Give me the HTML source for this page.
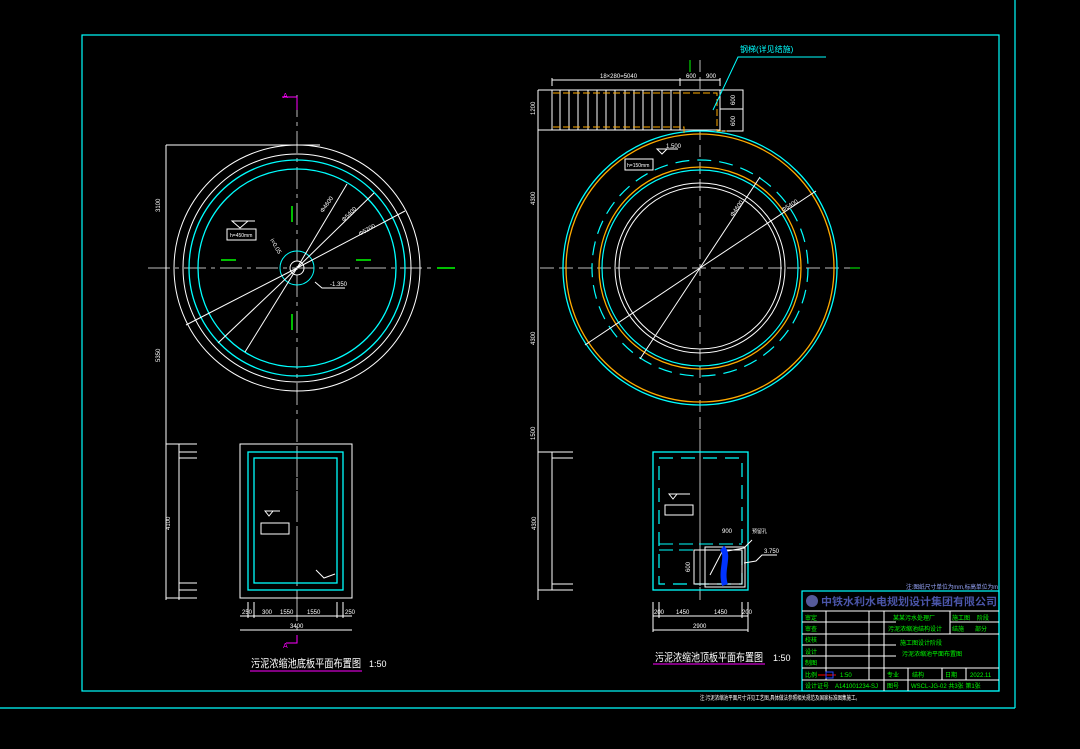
<!DOCTYPE html>
<html><head><meta charset="utf-8"><style>
html,body{margin:0;padding:0;background:#000;}
svg{display:block;}
text{font-family:"Liberation Sans","Noto Sans CJK SC",sans-serif;}
</style></head><body>
<svg width="1080" height="749" viewBox="0 0 1080 749" xmlns="http://www.w3.org/2000/svg">
<rect width="1080" height="749" fill="#000"/>
<rect x="82" y="35" width="917" height="656" fill="none" stroke="#00ffff" stroke-width="1.2"/>
<line x1="1015" y1="0" x2="1015" y2="708" stroke="#00ffff" stroke-width="1.2"/>
<line x1="0" y1="708" x2="1015" y2="708" stroke="#00ffff" stroke-width="1.2"/>

<g fill="none" stroke-width="1">
<line x1="297" y1="95" x2="297" y2="640" stroke="#bbb" stroke-dasharray="22,5,4,5"/>
<line x1="148" y1="268" x2="435" y2="268" stroke="#bbb" stroke-dasharray="22,5,4,5"/>
<circle cx="297" cy="268" r="123" stroke="#fff"/>
<circle cx="297" cy="268" r="114" stroke="#fff"/>
<circle cx="297" cy="268" r="108" stroke="#00ffff" stroke-width="1.3"/>
<circle cx="297" cy="268" r="99" stroke="#00ffff" stroke-width="1.3"/>
<circle cx="297" cy="268" r="17" stroke="#00ffff"/>
<circle cx="297" cy="268" r="7" stroke="#fff"/>
<g stroke="#fff">
<line x1="297" y1="268" x2="347" y2="184"/><line x1="297" y1="268" x2="374" y2="193"/><line x1="297" y1="268" x2="405" y2="211"/>
<line x1="297" y1="268" x2="186" y2="325"/><line x1="297" y1="268" x2="218" y2="343"/><line x1="297" y1="268" x2="245" y2="352"/>
<line x1="166" y1="145" x2="320" y2="145"/><line x1="166" y1="145" x2="166" y2="600"/>
<rect x="227" y="229" width="29" height="11"/>
<path d="M232 221 L240 228 L248 221 Z"/><line x1="232" y1="221" x2="255" y2="221"/>
<path d="M315 282 L322 288 L345 288"/>
</g>
<g stroke="#00ff00" stroke-width="1.5">
<line x1="221" y1="260" x2="236" y2="260"/><line x1="356" y1="260" x2="371" y2="260"/>
<line x1="292" y1="206" x2="292" y2="222"/><line x1="292" y1="314" x2="292" y2="330"/>
<line x1="437" y1="268" x2="455" y2="268"/>
</g>
<path d="M282 97 L297 97 L297 110" stroke="#ff00ff"/>
</g>
<g fill="#fff" font-size="6">
<text x="160" y="212" transform="rotate(-90 160 212)">3100</text>
<text x="160" y="362" transform="rotate(-90 160 362)">5350</text>
<text x="323" y="213" transform="rotate(-55 323 213)">Φ4600</text>
<text x="344" y="222" transform="rotate(-45 344 222)">Φ5400</text>
<text x="360" y="236" transform="rotate(-30 360 236)">Φ5200</text>
<text x="270" y="240" transform="rotate(60 270 240)">i=0.05</text>
<text x="230" y="237" font-size="5">h=450mm</text>
<text x="330" y="286">-1.350</text>
</g>
<text x="283" y="98" fill="#ff00ff" font-size="7">A</text>

<g fill="none">
<line x1="297" y1="430" x2="297" y2="600" stroke="#bbb" stroke-dasharray="12,4"/>
<rect x="240" y="444" width="112" height="154" stroke="#fff"/>
<rect x="248" y="452" width="95" height="138" stroke="#00ffff" stroke-width="1.3"/>
<rect x="254" y="458" width="83" height="125" stroke="#00ffff" stroke-width="1.3"/>
<rect x="261" y="523" width="28" height="11" stroke="#fff"/>
<path d="M265 511 L269 516 L273 511 Z M265 511 L280 511" stroke="#fff"/>
<g stroke="#fff">
<line x1="166" y1="444" x2="166" y2="600"/><line x1="179" y1="444" x2="179" y2="600"/>
<line x1="166" y1="444" x2="197" y2="444"/><line x1="179" y1="452" x2="197" y2="452"/><line x1="179" y1="458" x2="197" y2="458"/>
<line x1="179" y1="583" x2="197" y2="583"/><line x1="179" y1="590" x2="197" y2="590"/><line x1="166" y1="598" x2="197" y2="598"/>
<line x1="240" y1="616" x2="352" y2="616"/><line x1="240" y1="630" x2="352" y2="630"/>
<line x1="248" y1="602" x2="248" y2="618"/><line x1="254" y1="602" x2="254" y2="618"/><line x1="337" y1="602" x2="337" y2="618"/><line x1="343" y1="602" x2="343" y2="618"/>
<path d="M316 570 L324 578 L335 574"/>
</g>
<path d="M286 643 L297 643 L297 635" stroke="#ff00ff" fill="none"/>
<line x1="250" y1="671" x2="362" y2="671" stroke="#ff00ff"/>
</g>
<g fill="#fff" font-size="6">
<text x="170" y="530" transform="rotate(-90 170 530)">4100</text>
<text x="242" y="614">250</text><text x="262" y="614">300</text><text x="280" y="614">1550</text><text x="307" y="614">1550</text><text x="345" y="614">250</text>
<text x="290" y="628">3400</text>
</g>
<text x="283" y="648" fill="#ff00ff" font-size="7">A</text>
<text x="251" y="667" fill="#fff" font-size="11" textLength="110" lengthAdjust="spacingAndGlyphs">污泥浓缩池底板平面布置图</text>
<text x="369" y="667" fill="#fff" font-size="9">1:50</text>

<g fill="none" stroke-width="1">
<line x1="700" y1="60" x2="700" y2="600" stroke="#bbb" stroke-dasharray="12,5"/>
<line x1="540" y1="268" x2="860" y2="268" stroke="#bbb" stroke-dasharray="14,5"/>
<line x1="690" y1="60" x2="690" y2="72" stroke="#00ff00"/>
<line x1="850" y1="268" x2="860" y2="268" stroke="#00ff00"/>
<circle cx="700" cy="268" r="137" stroke="#00ffff" stroke-width="1.3"/>
<circle cx="700" cy="268" r="134" stroke="#ffaa00" stroke-width="1.3"/>
<circle cx="700" cy="268" r="108" stroke="#00ffff" stroke-width="1.2" stroke-dasharray="14,8"/>
<circle cx="700" cy="268" r="101" stroke="#ffaa00" stroke-width="1.3"/>
<circle cx="700" cy="268" r="98" stroke="#00ffff" stroke-width="1.2"/>
<circle cx="700" cy="268" r="85" stroke="#fff"/>
<circle cx="700" cy="268" r="81" stroke="#fff"/>
<g stroke="#fff">
<line x1="700" y1="268" x2="760" y2="177"/><line x1="700" y1="268" x2="640" y2="359"/>
<line x1="700" y1="268" x2="816" y2="191"/><line x1="700" y1="268" x2="585" y2="345"/>
<rect x="625" y="159" width="28" height="11"/>
<path d="M657 149 L662 154 L667 149 Z M657 149 L678 149"/>
<line x1="538" y1="90" x2="538" y2="600"/>
</g>
<rect x="552" y="90" width="168" height="40" fill="#000" stroke="#fff"/>
<g stroke="#fff">
<line x1="560" y1="90" x2="560" y2="130"/><line x1="569" y1="90" x2="569" y2="130"/><line x1="578" y1="90" x2="578" y2="130"/><line x1="588" y1="90" x2="588" y2="130"/><line x1="597" y1="90" x2="597" y2="130"/><line x1="606" y1="90" x2="606" y2="130"/><line x1="615" y1="90" x2="615" y2="130"/><line x1="625" y1="90" x2="625" y2="130"/><line x1="634" y1="90" x2="634" y2="130"/><line x1="643" y1="90" x2="643" y2="130"/><line x1="652" y1="90" x2="652" y2="130"/><line x1="662" y1="90" x2="662" y2="130"/><line x1="671" y1="90" x2="671" y2="130"/><line x1="680" y1="90" x2="680" y2="130"/>
<rect x="720" y="90" width="23" height="41"/><line x1="720" y1="109" x2="743" y2="109"/>
<line x1="552" y1="80" x2="720" y2="80"/><line x1="552" y1="78" x2="552" y2="86"/><line x1="680" y1="78" x2="680" y2="86"/><line x1="720" y1="78" x2="720" y2="86"/>
<line x1="538" y1="90" x2="552" y2="90"/><line x1="538" y1="130" x2="552" y2="130"/>
</g>
<path d="M553 93 L717 93 L717 131 L727 131 M553 127 L684 127 L684 134" stroke="#ffaa00" stroke-dasharray="7,3"/>
<path d="M713 110 L738 57 L826 57" stroke="#00ffff"/>
</g>
<g fill="#fff" font-size="6">
<text x="600" y="78">18×280=5040</text><text x="686" y="78">600</text><text x="706" y="78">900</text>
<text x="535" y="115" transform="rotate(-90 535 115)">1200</text>
<text x="535" y="205" transform="rotate(-90 535 205)">4300</text>
<text x="535" y="345" transform="rotate(-90 535 345)">4300</text>
<text x="535" y="440" transform="rotate(-90 535 440)">1500</text>
<text x="735" y="105" transform="rotate(-90 735 105)">600</text>
<text x="735" y="126" transform="rotate(-90 735 126)">600</text>
<text x="733" y="217" transform="rotate(-55 733 217)">Φ4600</text>
<text x="783" y="212" transform="rotate(-32 783 212)">Φ5400</text>
<text x="627" y="167" font-size="5">h=150mm</text>
<text x="666" y="148">1.500</text>
</g>
<text x="740" y="52" fill="#00ffff" font-size="8">钢梯(详见结施)</text>

<g fill="none">
<line x1="700" y1="430" x2="700" y2="600" stroke="#bbb" stroke-dasharray="12,4"/>
<rect x="653" y="452" width="95" height="138" stroke="#00ffff" stroke-width="1.3"/>
<rect x="659" y="458" width="83" height="126" stroke="#00ffff" stroke-width="1.2" stroke-dasharray="14,8"/>
<line x1="659" y1="544" x2="742" y2="544" stroke="#00ffff" stroke-dasharray="14,6"/>
<line x1="659" y1="550" x2="742" y2="550" stroke="#00ffff" stroke-dasharray="14,6"/>
<rect x="705" y="547" width="40" height="40" stroke="#fff"/>
<rect x="694" y="550" width="48" height="34" stroke="#fff"/>
<rect x="665" y="505" width="28" height="10" stroke="#fff"/>
<path d="M669 494 L673 499 L677 494 Z M669 494 L690 494" stroke="#fff"/>
<path d="M710 575 L722 552 L744 548 L752 540 M744 563 L756 561 L762 555 L777 555" stroke="#fff"/>
<path d="M722 548 C730 555 720 570 725 585" stroke="#0033ff" stroke-width="6"/>
<g stroke="#fff">
<line x1="538" y1="452" x2="573" y2="452"/><line x1="552" y1="458" x2="573" y2="458"/><line x1="552" y1="584" x2="573" y2="584"/><line x1="538" y1="590" x2="573" y2="590"/>
<line x1="552" y1="452" x2="552" y2="590"/>
<line x1="653" y1="616" x2="748" y2="616"/><line x1="653" y1="630" x2="748" y2="630"/>
<line x1="653" y1="602" x2="653" y2="632"/><line x1="659" y1="602" x2="659" y2="618"/><line x1="742" y1="602" x2="742" y2="618"/><line x1="748" y1="602" x2="748" y2="632"/>
</g>
<line x1="653" y1="664" x2="765" y2="664" stroke="#ff00ff"/>
</g>
<g fill="#fff" font-size="6">
<text x="536" y="530" transform="rotate(-90 536 530)">4300</text>
<text x="654" y="614">200</text><text x="676" y="614">1450</text><text x="714" y="614">1450</text><text x="742" y="614">200</text>
<text x="693" y="628">2900</text>
<text x="722" y="533">900</text><text x="752" y="533" font-size="5">预留孔</text>
<text x="764" y="553">3.750</text>
<text x="690" y="572" transform="rotate(-90 690 572)">600</text>
</g>
<text x="655" y="661" fill="#fff" font-size="11" textLength="108" lengthAdjust="spacingAndGlyphs">污泥浓缩池顶板平面布置图</text>
<text x="773" y="661" fill="#fff" font-size="9">1:50</text>

<text x="906" y="589" fill="#9aa8ff" font-size="6" textLength="92" lengthAdjust="spacingAndGlyphs">注:图纸尺寸单位为mm,标高单位为m</text>
<g fill="none" stroke="#fff">
<rect x="802" y="591" width="197" height="100" stroke="#00ffff" stroke-width="1.2"/>
<line x1="802" y1="611" x2="999" y2="611"/>
<line x1="802" y1="622" x2="896" y2="622"/><line x1="802" y1="634" x2="896" y2="634"/><line x1="802" y1="645" x2="896" y2="645"/><line x1="802" y1="656" x2="896" y2="656"/>
<line x1="802" y1="668" x2="999" y2="668"/><line x1="802" y1="680" x2="999" y2="680"/>
<line x1="896" y1="634" x2="999" y2="634"/><line x1="950" y1="622" x2="999" y2="622"/>
<line x1="826" y1="611" x2="826" y2="680"/><line x1="869" y1="611" x2="869" y2="680"/><line x1="884" y1="611" x2="884" y2="691"/>
<line x1="950" y1="611" x2="950" y2="634"/>
<line x1="908" y1="668" x2="908" y2="691"/><line x1="942" y1="668" x2="942" y2="680"/><line x1="966" y1="668" x2="966" y2="680"/>
</g>
<circle cx="812" cy="601" r="6" fill="#555a9a"/>
<text x="821" y="605" fill="#4a55a8" font-size="10.5" font-weight="bold" textLength="176" lengthAdjust="spacingAndGlyphs">中铁水利水电规划设计集团有限公司</text>
<g fill="#00ff00" font-size="6">
<text x="805" y="620">审定</text><text x="805" y="631">审查</text><text x="805" y="642">校核</text><text x="805" y="654">设计</text><text x="805" y="665">制图</text><text x="805" y="677">比例</text><text x="805" y="688">设计证号</text>
<text x="893" y="620">某某污水处理厂</text><text x="888" y="631">污泥浓缩池结构设计</text>
<text x="900" y="645">施工图设计阶段</text><text x="902" y="656">污泥浓缩池平面布置图</text>
<text x="952" y="620">施工图</text><text x="977" y="620">阶段</text><text x="952" y="631">结施</text><text x="975" y="631">部分</text>
<text x="887" y="677">专业</text><text x="912" y="677">结构</text><text x="945" y="677">日期</text><text x="970" y="677">2022.11</text>
<text x="887" y="688">图号</text><text x="911" y="688">WSCL-JG-02 共3张 第1张</text>
<text x="835" y="688">A141001234-SJ</text>
<text x="840" y="677">1:50</text>
</g>
<line x1="818" y1="675" x2="836" y2="675" stroke="#ff0000"/><rect x="826" y="672" width="7" height="6" fill="none" stroke="#2244ff"/>
<text x="700" y="700" fill="#fff" font-size="6" textLength="160" lengthAdjust="spacingAndGlyphs">注:污泥浓缩池平面尺寸详见工艺图,具体做法参照相关规范及国家标准图集施工。</text>
</svg>
</body></html>
